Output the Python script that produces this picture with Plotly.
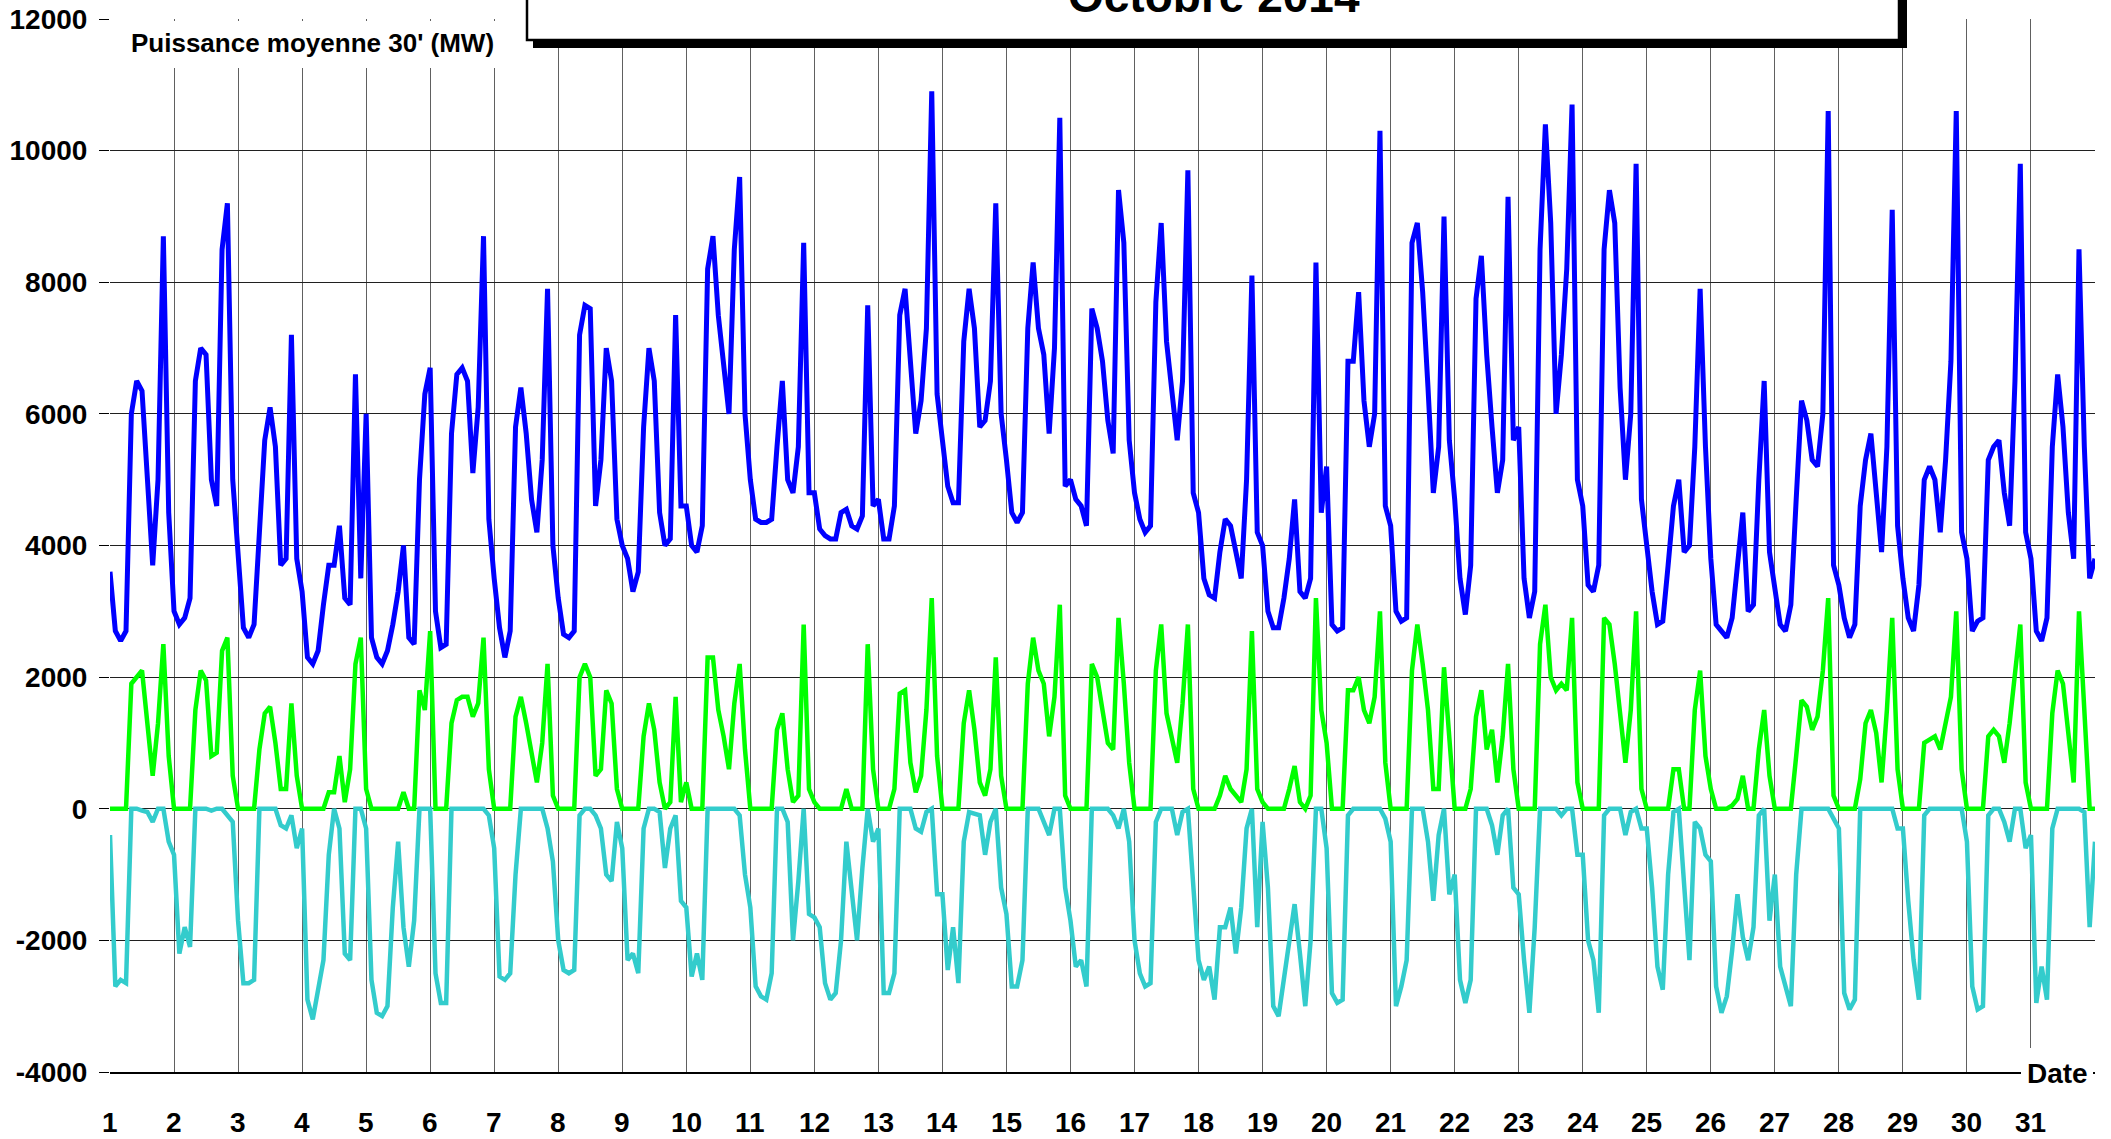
import plotly.graph_objects as go

# ---------------- data (MW, every 2 hours, Octobre 2014) ----------------
days = list(range(1, 32))
hours = [0, 2, 4, 6, 8, 10, 12, 14, 16, 18, 20, 22]
y_ticks = [-4000, -2000, 0, 2000, 4000, 6000, 8000, 10000, 12000]
x_labels = [str(d) for d in days]

serie_bleue = [
    [3600, 2700, 2550, 2700, 6000, 6500, 6350, 4900, 3700, 5000, 8700, 4500],
    [3000, 2800, 2900, 3200, 6500, 7000, 6900, 5000, 4600, 8500, 9200, 5000],
    [3800, 2750, 2600, 2800, 4200, 5600, 6100, 5500, 3700, 3800, 7200, 3800],
    [3300, 2300, 2200, 2400, 3100, 3700, 3700, 4300, 3200, 3100, 6600, 3500],
    [6000, 2600, 2300, 2200, 2400, 2800, 3300, 4000, 2600, 2500, 5000, 6300],
    [6700, 3000, 2450, 2500, 5700, 6600, 6700, 6500, 5100, 6100, 8700, 4400],
    [3500, 2750, 2300, 2700, 5800, 6400, 5700, 4700, 4200, 5300, 7900, 4000],
    [3200, 2650, 2600, 2700, 7200, 7650, 7600, 4600, 5300, 7000, 6500, 4400],
    [4000, 3800, 3300, 3600, 5800, 7000, 6500, 4500, 4000, 4100, 7500, 4600],
    [4600, 4000, 3900, 4300, 8200, 8700, 7500, 6800, 6000, 8500, 9600, 6000],
    [5000, 4400, 4350, 4350, 4400, 5500, 6500, 5000, 4800, 5500, 8600, 4800],
    [4800, 4250, 4150, 4100, 4100, 4500, 4550, 4300, 4250, 4450, 7650, 4600],
    [4700, 4100, 4100, 4600, 7500, 7900, 6900, 5700, 6200, 7300, 10900, 6300],
    [5600, 4900, 4650, 4650, 7100, 7900, 7300, 5800, 5900, 6500, 9200, 6000],
    [5300, 4500, 4350, 4500, 7300, 8300, 7300, 6900, 5700, 7000, 10500, 4900],
    [5000, 4700, 4600, 4300, 7600, 7300, 6800, 5900, 5400, 9400, 8600, 5600],
    [4800, 4400, 4200, 4300, 7700, 8900, 7100, 6400, 5600, 6500, 9700, 4800],
    [4500, 3500, 3250, 3200, 3900, 4400, 4300, 3900, 3500, 5000, 8100, 4200],
    [4000, 3000, 2750, 2750, 3200, 3800, 4700, 3300, 3200, 3500, 8300, 4500],
    [5200, 2800, 2700, 2750, 6800, 6800, 7850, 6200, 5500, 6000, 10300, 4600],
    [4300, 3000, 2850, 2900, 8600, 8900, 7850, 6400, 4800, 5500, 9000, 5600],
    [4700, 3500, 2950, 3700, 7750, 8400, 6900, 5800, 4800, 5300, 9300, 5600],
    [5800, 3500, 2900, 3300, 8500, 10400, 8900, 6000, 6900, 8200, 10700, 5000],
    [4600, 3400, 3300, 3700, 8500, 9400, 8900, 6400, 5000, 6000, 9800, 4700],
    [4000, 3300, 2800, 2850, 3700, 4600, 5000, 3900, 4000, 5500, 7900, 5500],
    [3800, 2800, 2700, 2600, 2900, 3700, 4500, 3000, 3100, 5000, 6500, 3900],
    [3300, 2800, 2700, 3100, 4700, 6200, 5900, 5300, 5200, 6000, 10600, 3700],
    [3400, 2900, 2600, 2800, 4600, 5300, 5700, 4700, 3900, 5500, 9100, 4300],
    [3500, 2900, 2700, 3400, 5000, 5200, 5000, 4200, 5300, 6800, 10600, 4200],
    [3800, 2700, 2850, 2900, 5300, 5500, 5600, 4800, 4300, 6500, 9800, 4200],
    [3800, 2700, 2550, 2900, 5500, 6600, 5800, 4500, 3800, 8500, 5500, 3500],
]
fin_bleue = 3800

serie_verte = [
    [0, 0, 0, 0, 1900, 2000, 2100, 1300, 500, 1300, 2500, 800],
    [0, 0, 0, 0, 1500, 2100, 1950, 800, 850, 2400, 2600, 500],
    [0, 0, 0, 0, 900, 1450, 1550, 1000, 300, 300, 1600, 500],
    [0, 0, 0, 0, 0, 250, 250, 800, 100, 600, 2200, 2600],
    [300, 0, 0, 0, 0, 0, 0, 250, 0, 0, 1800, 1500],
    [2700, 0, 0, 0, 1300, 1650, 1700, 1700, 1400, 1600, 2600, 600],
    [0, 0, 0, 0, 1400, 1700, 1300, 800, 400, 1000, 2200, 200],
    [0, 0, 0, 0, 2000, 2200, 2000, 500, 600, 1800, 1600, 300],
    [0, 0, 0, 0, 1100, 1600, 1200, 400, 0, 100, 1700, 100],
    [400, 0, 0, 0, 2300, 2300, 1500, 1100, 600, 1600, 2200, 900],
    [0, 0, 0, 0, 0, 1200, 1450, 600, 100, 200, 2800, 300],
    [100, 0, 0, 0, 0, 0, 300, 0, 0, 0, 2500, 600],
    [0, 0, 0, 300, 1750, 1800, 700, 250, 500, 1500, 3200, 800],
    [0, 0, 0, 0, 1300, 1800, 1200, 400, 200, 600, 2300, 500],
    [0, 0, 0, 0, 1900, 2600, 2100, 1900, 1100, 1700, 3100, 200],
    [0, 0, 0, 0, 2200, 2000, 1500, 1000, 900, 2900, 1900, 700],
    [0, 0, 0, 0, 2100, 2800, 1450, 1100, 700, 1600, 2800, 300],
    [0, 0, 0, 0, 200, 500, 300, 200, 100, 600, 2700, 300],
    [100, 0, 0, 0, 0, 300, 650, 100, 0, 200, 3200, 1500],
    [1000, 0, 0, 0, 1800, 1800, 2000, 1500, 1300, 1700, 3000, 700],
    [0, 0, 0, 0, 2100, 2800, 2200, 1500, 300, 300, 2150, 1000],
    [0, 0, 0, 300, 1400, 1800, 900, 1200, 400, 1100, 2200, 600],
    [0, 0, 0, 0, 2500, 3100, 2000, 1800, 1900, 1800, 2900, 400],
    [0, 0, 0, 0, 2900, 2800, 2200, 1500, 700, 1500, 3000, 300],
    [0, 0, 0, 0, 0, 600, 600, 0, 0, 1500, 2100, 800],
    [300, 0, 0, 0, 50, 150, 500, 0, 0, 900, 1500, 500],
    [0, 0, 0, 0, 800, 1650, 1550, 1200, 1400, 2100, 3200, 200],
    [0, 0, 0, 0, 450, 1300, 1500, 1150, 400, 1500, 2900, 600],
    [0, 0, 0, 0, 1000, 1050, 1100, 900, 1300, 1700, 3000, 600],
    [0, 0, 0, 0, 1100, 1200, 1100, 700, 1300, 2100, 2800, 400],
    [0, 0, 0, 0, 1450, 2100, 1900, 1200, 400, 3000, 1500, 0],
]
fin_verte = 0

serie_cyan = [
    [-400, -2700, -2600, -2650, 0, 0, -30, -50, -200, 0, 0, -500],
    [-700, -2200, -1800, -2100, 0, 0, 0, -30, 0, 0, -100, -200],
    [-1700, -2650, -2650, -2600, 0, 0, 0, 0, -250, -300, -100, -600],
    [-300, -2900, -3200, -2700, -2300, -700, 0, -300, -2200, -2300, 0, 0],
    [-300, -2600, -3100, -3150, -3000, -1500, -500, -1800, -2400, -1700, 0, 0],
    [0, -2500, -2950, -2950, 0, 0, 0, 0, 0, 0, 0, -100],
    [-600, -2550, -2600, -2500, -1000, 0, 0, 0, 0, 0, -300, -800],
    [-2000, -2450, -2500, -2450, -100, 0, 0, -100, -300, -1000, -1100, -200],
    [-600, -2300, -2200, -2500, -300, 0, 0, -50, -900, -300, -100, -1400],
    [-1500, -2550, -2200, -2600, 0, 0, 0, 0, 0, 0, -100, -1000],
    [-1500, -2700, -2850, -2900, -2500, 0, 0, -200, -2000, -1100, 0, -1600],
    [-1650, -1800, -2650, -2900, -2800, -2000, -500, -1300, -2000, -900, 0, -500],
    [-300, -2800, -2800, -2500, 0, 0, 0, -300, -350, -50, 0, -1300],
    [-1300, -2450, -1800, -2650, -500, -50, -80, -100, -700, -200, 0, -1200],
    [-1600, -2700, -2700, -2300, 0, 0, 0, -200, -400, 0, 0, -1200],
    [-1700, -2400, -2300, -2700, 0, 0, 0, 0, -100, -300, 0, -500],
    [-2000, -2500, -2700, -2650, -200, 0, 0, 0, -400, -50, 0, -1200],
    [-2300, -2600, -2400, -2900, -1800, -1800, -1500, -2200, -1500, -300, 0, -1800],
    [-200, -1200, -3000, -3150, -2600, -2100, -1450, -2200, -3000, -2000, 0, 0],
    [-600, -2800, -2950, -2900, -100, 0, 0, 0, 0, 0, 0, -150],
    [-500, -3000, -2700, -2300, 0, 0, 0, -500, -1400, -400, 0, -1300],
    [-1000, -2600, -2950, -2600, 0, 0, 0, -250, -700, -100, 0, -1200],
    [-1300, -2300, -3100, -1800, 0, 0, 0, 0, -100, 0, 0, -700],
    [-700, -2000, -2300, -3100, -100, 0, 0, 0, -400, -50, 0, -300],
    [-300, -1200, -2400, -2750, -1000, -50, 0, -1200, -2300, -200, -300, -700],
    [-800, -2700, -3100, -2850, -2150, -1300, -1950, -2300, -1800, -100, 0, -1700],
    [-1000, -2400, -2700, -3000, -1000, 0, 0, 0, 0, 0, 0, -150],
    [-300, -2800, -3050, -2900, 0, 0, 0, 0, 0, 0, 0, -300],
    [-300, -1400, -2300, -2900, -100, 0, 0, 0, 0, 0, 0, 0],
    [-500, -2700, -3050, -3000, -100, 0, 0, -200, -500, 0, 0, -600],
    [-400, -2950, -2400, -2900, -300, 0, 0, 0, 0, 0, -50, -1800],
]
fin_cyan = -500


def serie(par_jour, fin):
    xs, ys = [], []
    for d, vals in zip(days, par_jour):
        for h, v in zip(hours, vals):
            xs.append(d + h / 24.0)
            ys.append(v)
    xs.append(days[-1] + 1)
    ys.append(fin)
    return xs, ys


FONT = "Liberation Sans"
W, H = 2111, 1139
# plot area in page pixels: x 110..2095, y 19..1072
L, T = 110, 19
R = W - 2095
B = H - 1072
PW, PH = W - L - R, H - T - B


def px(xpage):
    return (xpage - L) / PW


def py(ypage):
    return (H - B - ypage) / PH


fig = go.Figure()
for vals, fin, col, wid in [
    (serie_cyan, fin_cyan, "#33CCCC", 4.5),
    (serie_verte, fin_verte, "#00FF00", 4.5),
    (serie_bleue, fin_bleue, "#0000FF", 5),
]:
    xs, ys = serie(vals, fin)
    fig.add_trace(go.Scatter(x=xs, y=ys, mode="lines",
                             line=dict(color=col, width=wid),
                             hoverinfo="skip", showlegend=False))

fig.update_layout(
    width=W, height=H,
    margin=dict(l=L, r=R, t=T, b=B, pad=0),
    paper_bgcolor="white", plot_bgcolor="white",
    showlegend=False,
    xaxis=dict(
        range=[1, 32],
        tickmode="array",
        tickvals=days + [32],
        showticklabels=False,
        showgrid=True, gridcolor="#606060", gridwidth=1.3,
        zeroline=False, automargin=False,
        showline=True, linecolor="black", linewidth=1.5,
        ticks="",
    ),
    yaxis=dict(
        range=[-4000, 12000],
        tickmode="array",
        tickvals=y_ticks,
        ticktext=[str(v) for v in y_ticks],
        showgrid=True, gridcolor="#202020", gridwidth=1,
        zeroline=False, automargin=False,
        showline=False,
        ticks="outside", ticklen=10, tickwidth=1.2, tickcolor="black",
        ticklabelstandoff=6, ticklabeloverflow="allow",
        tickfont=dict(family=FONT, size=28, color="black", weight="bold"),
    ),
)

shapes = [
    # white patch behind the unit label
    dict(type="rect", xref="paper", yref="paper",
         x0=px(113), x1=px(524), y0=py(68), y1=py(21),
         fillcolor="white", line=dict(width=0), layer="above"),
    # title box shadow
    dict(type="rect", xref="paper", yref="paper",
         x0=px(533), x1=px(1907), y0=py(48), y1=py(-30),
         fillcolor="black", line=dict(width=0), layer="above"),
    # title box
    dict(type="rect", xref="paper", yref="paper",
         x0=px(527), x1=px(1899), y0=py(40), y1=py(-30),
         fillcolor="white", line=dict(color="black", width=2.5), layer="above"),
    # white patch behind "Date"
    dict(type="rect", xref="paper", yref="paper",
         x0=px(2021), x1=px(2093), y0=py(1108), y1=py(1048),
         fillcolor="white", line=dict(width=0), layer="above"),
]
fig.update_layout(shapes=shapes)

fig.add_annotation(xref="paper", yref="paper", x=px(1214), y=py(-4),
                   text="<b>Octobre 2014</b>", showarrow=False,
                   xanchor="center", yanchor="middle",
                   font=dict(family=FONT, size=46, color="black"))
fig.add_annotation(xref="paper", yref="paper", x=px(312), y=py(43),
                   text="<b>Puissance moyenne 30' (MW)</b>", showarrow=False,
                   xanchor="center", yanchor="middle",
                   font=dict(family=FONT, size=26, color="black"))
fig.add_annotation(xref="paper", yref="paper", x=px(2057), y=py(1073),
                   text="<b>Date</b>", showarrow=False,
                   xanchor="center", yanchor="middle",
                   font=dict(family=FONT, size=28, color="black"))
for d, lab in zip(days, x_labels):
    fig.add_annotation(xref="x", yref="paper", x=d, y=py(1122),
                       text="<b>" + lab + "</b>", showarrow=False,
                       xanchor="center", yanchor="middle",
                       font=dict(family=FONT, size=28, color="black"))

fig.write_html("out.html",
               config={"displayModeBar": False},
               post_script="document.body.style.margin='0';")
